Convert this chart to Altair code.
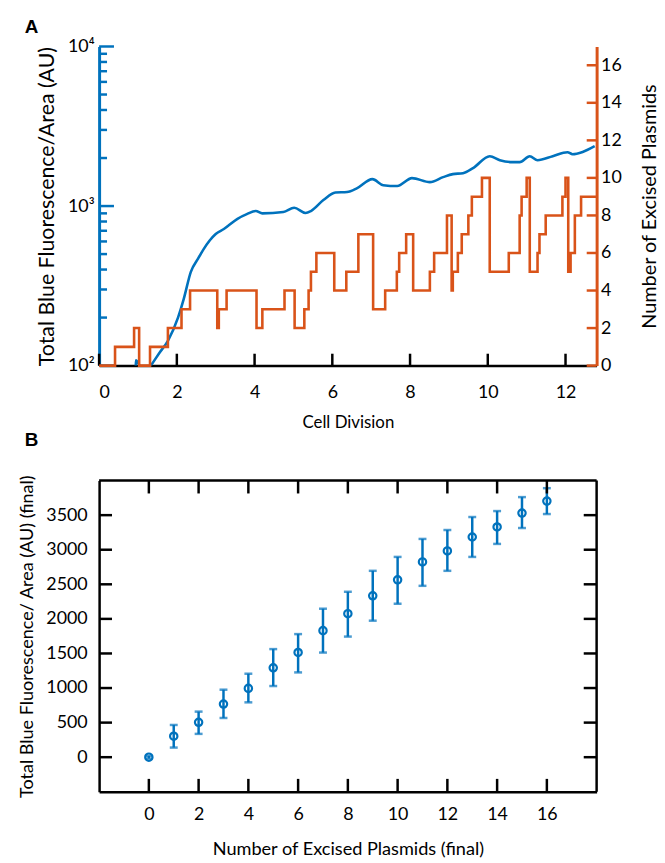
import altair as alt
import pandas as pd

BLUE = "#0072BD"
ORANGE = "#D95319"
FONT = "Lato"

# ---------------- Panel A data ----------------
blue_division = [0.93, 0.95, 1.16, 1.33, 1.55, 1.77, 2.03, 2.18, 2.36, 2.55, 2.69, 2.85, 3.00,
                 3.21, 3.56, 3.80, 4.03, 4.20, 4.74, 5.02, 5.31, 5.45, 5.77, 6.08, 6.38, 6.64,
                 7.03, 7.31, 7.67, 8.05, 8.51, 8.85, 9.10, 9.36, 9.62, 10.05, 10.31, 10.64,
                 10.82, 11.08, 11.28, 11.67, 12.05, 12.18, 12.44, 12.75]
blue_fluor = [50, 108, 88, 100, 120, 143, 200, 263, 387, 470, 537, 610, 668,
              718, 832, 890, 931, 900, 917, 975, 905, 930, 1090, 1215, 1225, 1296,
              1475, 1352, 1334, 1496, 1413, 1518, 1585, 1607, 1728, 2053, 1939, 1884,
              1884, 2053, 1939, 2053, 2175, 2113, 2183, 2371]

orange_division = [0, 0.41, 0.90, 1.03, 1.31, 1.77, 2.12, 2.34, 3.04, 3.08, 3.28, 4.05, 4.20,
                   4.77, 5.03, 5.28, 5.39, 5.45, 5.59, 6.05, 6.36, 6.67, 7.05, 7.36, 7.66,
                   7.72, 7.90, 8.08, 8.51, 8.62, 8.95, 9.07, 9.10, 9.23, 9.33, 9.50, 9.59,
                   9.85, 10.05, 10.54, 10.82, 10.87, 11.00, 11.08, 11.28, 11.33, 11.49,
                   11.92, 12.00, 12.07, 12.13, 12.24, 12.40, 12.80]
orange_count = [0, 1, 2, 0, 1, 2, 3, 4, 2, 3, 4, 2, 3,
                4, 2, 3, 4, 5, 6, 4, 5, 7, 3, 4, 5,
                6, 7, 4, 5, 6, 8, 4, 5, 6, 7, 8, 9,
                10, 5, 6, 8, 9, 10, 5, 6, 7, 8,
                9, 10, 5, 6, 8, 9, 9]

a_x_ticks = [0, 2, 4, 6, 8, 10, 12]
a_log_major = [100, 1000, 10000]
a_log_minor = [200, 300, 400, 500, 600, 700, 800, 900,
               2000, 3000, 4000, 5000, 6000, 7000, 8000, 9000]
a_right_ticks = [0, 2, 4, 6, 8, 10, 12, 14, 16]

# ---------------- Panel B data ----------------
plasmids = list(range(17))
fluor_mean = [0, 303, 505, 769, 995, 1293, 1514, 1830, 2075, 2334, 2565, 2824, 2983, 3184, 3329, 3530, 3703]
fluor_low = [-20, 139, 337, 567, 793, 1029, 1226, 1513, 1744, 1974, 2219, 2478, 2695, 2896, 3084, 3314, 3516]
fluor_high = [20, 466, 659, 976, 1207, 1563, 1780, 2147, 2392, 2695, 2896, 3156, 3285, 3473, 3559, 3761, 3890]

b_x_ticks = [0, 2, 4, 6, 8, 10, 12, 14, 16]
b_y_ticks = [0, 500, 1000, 1500, 2000, 2500, 3000, 3500]

WA, HA = 502, 322
WB, HB = 502, 314

# ---------------- Panel A ----------------
df_blue = pd.DataFrame({"div": blue_division, "fluor": blue_fluor})
df_orange = pd.DataFrame({"div": orange_division, "count": orange_count})

xs_a = alt.Scale(domain=[0, 12.8], nice=False, zero=False)
ys_log = alt.Scale(type="log", domain=[100, 10000], nice=False)
ys_r = alt.Scale(domain=[0, 17], nice=False, zero=False)

x_axis_a = alt.Axis(values=a_x_ticks, ticks=False, grid=False, domainColor="black",
                    domainWidth=2.5, labelFont=FONT, labelFontSize=18, labelColor="black",
                    labelPadding=18, title="Cell Division", titleFont=FONT, titleFontSize=17,
                    titleFontWeight="normal", titleColor="black", titlePadding=13)
y_axis_left = alt.Axis(orient="left", values=a_log_major, ticks=False, grid=False,
                       domainColor=BLUE, domainWidth=3,
                       labelExpr="datum.value == 100 ? '10²' : (datum.value == 1000 ? '10³' : '10⁴')",
                       labelFont=FONT, labelFontSize=18, labelColor="black", labelPadding=5,
                       title="Total Blue Fluorescence/Area (AU)", titleFont=FONT, titleFontSize=21.5,
                       titleFontWeight="normal", titleColor="black", titlePadding=9)
y_axis_right = alt.Axis(orient="right", values=a_right_ticks, ticks=False, grid=False,
                        domainColor=ORANGE, domainWidth=3,
                        labelFont=FONT, labelFontSize=18, labelColor="black", labelPadding=4,
                        title="Number of Excised Plasmids", titleFont=FONT, titleFontSize=20,
                        titleFontWeight="normal", titleColor="black", titleAngle=270,
                        titleBaseline="top", titlePadding=19)

blue_line = alt.Chart(df_blue).mark_line(color=BLUE, strokeWidth=2.6, clip=True,
                                         interpolate="monotone").encode(
    x=alt.X("div:Q", scale=xs_a, axis=x_axis_a),
    y=alt.Y("fluor:Q", scale=ys_log, axis=y_axis_left),
)
blue_major = alt.Chart(pd.DataFrame({"v": a_log_major})).mark_rule(color=BLUE, strokeWidth=2.5).encode(
    y=alt.Y("v:Q", scale=ys_log), x=alt.value(0), x2=alt.value(15))
blue_minor = alt.Chart(pd.DataFrame({"v": a_log_minor})).mark_rule(color=BLUE, strokeWidth=2.5).encode(
    y=alt.Y("v:Q", scale=ys_log), x=alt.value(0), x2=alt.value(8))
x_ticks_a = alt.Chart(pd.DataFrame({"v": a_x_ticks})).mark_rule(color="black", strokeWidth=2.5).encode(
    x=alt.X("v:Q", scale=xs_a), y=alt.value(HA), y2=alt.value(HA - 12))

orange_line = alt.Chart(df_orange).mark_line(color=ORANGE, strokeWidth=2.6,
                                             interpolate="step-after").encode(
    x=alt.X("div:Q", scale=xs_a),
    y=alt.Y("count:Q", scale=ys_r, axis=y_axis_right),
)
orange_ticks = alt.Chart(pd.DataFrame({"v": a_right_ticks})).mark_rule(color=ORANGE, strokeWidth=2.5).encode(
    y=alt.Y("v:Q", scale=ys_r), x=alt.value(WA), x2=alt.value(WA - 10))

blue_group = alt.layer(blue_line, blue_major, blue_minor, x_ticks_a)
orange_group = alt.layer(orange_line, orange_ticks)

panel_a = alt.layer(blue_group, orange_group).resolve_scale(y="independent").properties(
    width=WA, height=HA,
    title=alt.TitleParams("A", anchor="start", frame="group", dx=-75, font="Liberation Sans",
                          fontSize=19, fontWeight="bold", color="black", offset=1),
)

# ---------------- Panel B ----------------
df_b = pd.DataFrame({"n": plasmids, "mean": fluor_mean, "low": fluor_low, "high": fluor_high})
xs_b = alt.Scale(domain=[-2, 18], nice=False, zero=False)
ys_b = alt.Scale(domain=[-500, 4000], nice=False, zero=False)

x_axis_b = alt.Axis(values=b_x_ticks, ticks=False, grid=False, domainColor="black", domainWidth=2.5,
                    labelFont=FONT, labelFontSize=18, labelColor="black", labelPadding=14,
                    title="Number of Excised Plasmids (final)", titleFont=FONT, titleFontSize=18.3,
                    titleFontWeight="normal", titleColor="black", titlePadding=17)
y_axis_b = alt.Axis(values=b_y_ticks, format="d", ticks=False, grid=False, domainColor="black",
                    domainWidth=2.5, labelFont=FONT, labelFontSize=18, labelColor="black",
                    labelPadding=12,
                    title="Total Blue Fluorescence/ Area (AU) (final)", titleFont=FONT,
                    titleFontSize=18.2, titleFontWeight="normal", titleColor="black", titlePadding=9)

err = alt.Chart(df_b).mark_rule(color=BLUE, strokeWidth=2.5).encode(
    x=alt.X("n:Q", scale=xs_b, axis=x_axis_b),
    y=alt.Y("low:Q", scale=ys_b, axis=y_axis_b),
    y2="high:Q",
)
cap_lo = alt.Chart(df_b).mark_tick(color=BLUE, thickness=2.5, size=8, orient="horizontal").encode(
    x=alt.X("n:Q", scale=xs_b), y=alt.Y("low:Q", scale=ys_b))
cap_hi = alt.Chart(df_b).mark_tick(color=BLUE, thickness=2.5, size=8, orient="horizontal").encode(
    x=alt.X("n:Q", scale=xs_b), y=alt.Y("high:Q", scale=ys_b))
pts = alt.Chart(df_b).mark_point(shape="circle", filled=False, color=BLUE, size=55,
                                 strokeWidth=2.2, opacity=1).encode(
    x=alt.X("n:Q", scale=xs_b), y=alt.Y("mean:Q", scale=ys_b))

frame_top = alt.Chart().mark_rule(color="black", strokeWidth=2.5).encode(
    x=alt.value(0), x2=alt.value(WB), y=alt.value(0))
frame_right = alt.Chart().mark_rule(color="black", strokeWidth=2.5).encode(
    x=alt.value(WB), y=alt.value(0), y2=alt.value(HB))

df_bx = pd.DataFrame({"v": b_x_ticks})
df_by = pd.DataFrame({"v": b_y_ticks})
tk_bottom = alt.Chart(df_bx).mark_rule(color="black", strokeWidth=2.5).encode(
    x=alt.X("v:Q", scale=xs_b), y=alt.value(HB), y2=alt.value(HB - 13))
tk_top = alt.Chart(df_bx).mark_rule(color="black", strokeWidth=2.5).encode(
    x=alt.X("v:Q", scale=xs_b), y=alt.value(0), y2=alt.value(13))
tk_left = alt.Chart(df_by).mark_rule(color="black", strokeWidth=2.5).encode(
    y=alt.Y("v:Q", scale=ys_b), x=alt.value(0), x2=alt.value(13))
tk_right = alt.Chart(df_by).mark_rule(color="black", strokeWidth=2.5).encode(
    y=alt.Y("v:Q", scale=ys_b), x=alt.value(WB), x2=alt.value(WB - 13))

panel_b = alt.layer(err, cap_lo, cap_hi, pts, frame_top, frame_right,
                    tk_bottom, tk_top, tk_left, tk_right).properties(
    width=WB, height=HB,
    title=alt.TitleParams("B", anchor="start", frame="group", dx=-75, font="Liberation Sans",
                          fontSize=19, fontWeight="bold", color="black", offset=25),
)

chart = alt.vconcat(panel_a, panel_b, spacing=0).properties(
    padding={"left": 18, "top": 14, "right": 5, "bottom": 5},
    background="white",
).configure_view(stroke=None)

chart.save("out.html", embed_options={"renderer": "svg", "actions": False})
